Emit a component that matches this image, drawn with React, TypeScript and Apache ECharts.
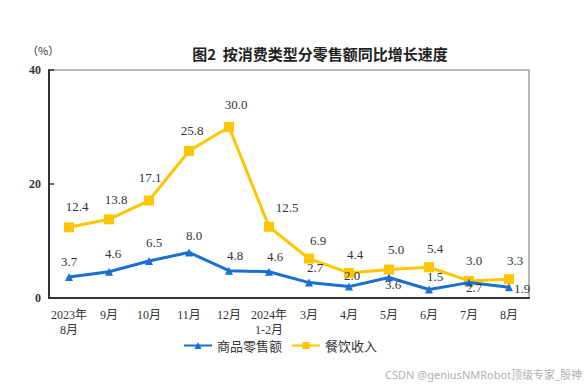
import React, { useEffect, useRef } from "react";
import * as echarts from "echarts";

const categories = [
  "2023年\n8月", "9月", "10月", "11月", "12月", "2024年\n1-2月",
  "3月", "4月", "5月", "6月", "7月", "8月",
];
const retailValues = [3.7, 4.6, 6.5, 8.0, 4.8, 4.6, 2.7, 2.0, 3.6, 1.5, 2.7, 1.9];
const cateringValues = [12.4, 13.8, 17.1, 25.8, 30.0, 12.5, 6.9, 4.4, 5.0, 5.4, 3.0, 3.3];
const yTicks = [0, 20, 40];

// label nudges (layout only)
const retailLabelOffsets: [number, number][] = [
  [0, 0], [4, -3], [5, -3], [5, -1], [6, 0], [6, 0],
  [6, 0], [3, 4], [4, 23], [6, 3], [5, 20], [13, 17],
];
const cateringLabelOffsets: [number, number][] = [
  [8, -4], [7, -3], [1, -7], [3, -4], [7, -6], [18, -3],
  [9, -2], [6, -2], [7, -4], [6, -2], [5, -4], [6, -2],
];

const BLUE = "#1a6fd0";
const YELLOW = "#ffc600";
const SERIF = "'Liberation Serif', 'Times New Roman', 'Noto Sans CJK SC', serif";

export default function App() {
  const ref = useRef<HTMLDivElement>(null);
  useEffect(() => {
    if (!ref.current) return;
    const chart = echarts.init(ref.current, undefined, { renderer: "svg" });
    const labelStyle = {
      show: true,
      position: "top" as const,
      fontFamily: SERIF,
      fontSize: 13,
      color: "#333",
      formatter: (p: any) => Number(p.value).toFixed(1),
    };
    chart.setOption({
      animation: false,
      backgroundColor: "#fff",
      title: {
        text: "图2  按消费类型分零售额同比增长速度",
        left: 315,
        textAlign: "center",
        top: 41,
        textStyle: {
          fontFamily: "'Noto Sans CJK SC', sans-serif",
          fontSize: 15,
          fontWeight: "bold",
          color: "#222",
        },
      },
      graphic: [
        {
          type: "text",
          left: 27,
          top: 44,
          style: {
            text: "（%）",
            fontFamily: "'Noto Sans CJK SC', sans-serif",
            fontSize: 11,
            fill: "#333",
          },
        },
        {
          type: "text",
          right: 4,
          top: 369,
          style: {
            text: "CSDN @geniusNMRobot顶级专家_殷神",
            fontFamily: "'Noto Sans', 'Noto Sans CJK SC', sans-serif",
            fontSize: 11,
            fill: "#b0b0b0",
          },
        },
      ],
      legend: {
        left: 178,
        top: 334,
        itemWidth: 28,
        itemHeight: 9,
        itemGap: 9,
        textStyle: {
          fontFamily: "'Noto Sans CJK SC', serif",
          fontSize: 13,
          color: "#333",
        },
        data: ["商品零售额", "餐饮收入"],
      },
      grid: {
        left: 49,
        right: 57,
        top: 70,
        bottom: 88,
        show: true,
        borderColor: "#a0a0a0",
        borderWidth: 1.5,
      },
      xAxis: {
        type: "category",
        data: categories,
        boundaryGap: true,
        axisLine: { lineStyle: { color: "#333", width: 2 } },
        axisTick: { inside: true, length: 4, lineStyle: { color: "#333", width: 1.5 } },
        axisLabel: {
          fontFamily: SERIF,
          fontSize: 12,
          color: "#333",
          margin: 9,
          lineHeight: 15,
          interval: 0,
        },
      },
      yAxis: {
        type: "value",
        min: yTicks[0],
        max: yTicks[yTicks.length - 1],
        interval: 20,
        splitLine: { show: false },
        axisLine: { show: true, lineStyle: { color: "#333", width: 2 } },
        axisTick: { show: true, inside: true, length: 5, lineStyle: { color: "#333", width: 1.5 } },
        axisLabel: {
          fontFamily: SERIF,
          fontSize: 12,
          fontWeight: "bold",
          color: "#333",
          margin: 8,
        },
      },
      series: [
        {
          name: "商品零售额",
          type: "line",
          symbol: "triangle",
          symbolSize: 8,
          color: BLUE,
          lineStyle: { color: BLUE, width: 3 },
          itemStyle: { color: BLUE },
          data: retailValues.map((v, i) => ({
            value: v,
            label: { ...labelStyle, offset: retailLabelOffsets[i] },
          })),
          label: labelStyle,
          z: 3,
        },
        {
          name: "餐饮收入",
          type: "line",
          symbol: "rect",
          symbolSize: 10,
          color: YELLOW,
          lineStyle: { color: YELLOW, width: 3 },
          itemStyle: { color: YELLOW },
          data: cateringValues.map((v, i) => ({
            value: v,
            label: { ...labelStyle, offset: cateringLabelOffsets[i] },
          })),
          label: labelStyle,
          z: 2,
        },
      ],
    });
    return () => chart.dispose();
  }, []);
  return (
    <div
      ref={ref}
      style={{ position: "absolute", left: 0, top: 0, width: 586, height: 386 }}
    />
  );
}
